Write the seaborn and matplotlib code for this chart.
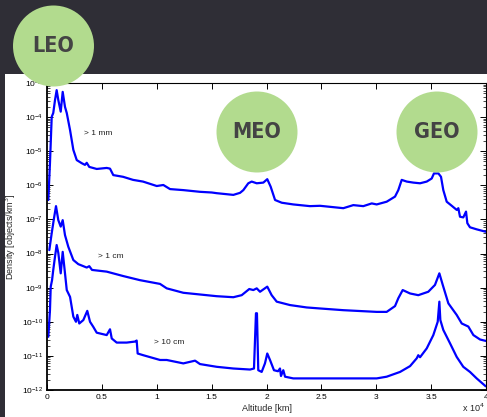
import numpy as np
import pandas as pd
import matplotlib
matplotlib.use('Agg')
import matplotlib.pyplot as plt
import seaborn as sns
from matplotlib.patches import Ellipse, Rectangle
from matplotlib.ticker import FuncFormatter, LogLocator, NullFormatter

sns.set_style('ticks')
plt.rcParams['font.family'] = ['Liberation Sans', 'DejaVu Sans']

# altitude [km] and log10 density [objects/km^3]
alt_mm = [120, 270, 430, 570, 730, 880, 1030, 1250, 1430, 1640, 1800, 2100, 2400, 2710,
          3160, 3460, 3620, 3850, 4530, 5440, 5740, 6040, 6930, 7840, 8750, 10000, 10600,
          11210, 12420, 13940, 15010, 15460, 16980, 17590, 17890, 18340, 18650, 19110,
          19710, 20070, 20380, 20780, 21390, 22440, 23960, 24880, 25790, 27000, 27910,
          28820, 29590, 30040, 30950, 31710, 32010, 32320, 32780, 33380, 33990, 34600,
          35050, 35260, 35660, 35900, 36110, 36420, 36880, 37330, 37480, 37630, 37930,
          38180, 38300, 38540, 39150, 39970]
logd_mm = [-6.43, -5.35, -3.99, -3.88, -3.50, -3.21, -3.50, -3.84, -3.26, -3.70, -3.88,
           -4.38, -4.96, -5.26, -5.35, -5.40, -5.34, -5.46, -5.52, -5.49, -5.51, -5.70,
           -5.75, -5.84, -5.89, -6.02, -5.99, -6.11, -6.14, -6.19, -6.21, -6.23, -6.28,
           -6.22, -6.14, -5.94, -5.89, -5.94, -5.92, -5.82, -6.04, -6.43, -6.51, -6.56,
           -6.61, -6.60, -6.63, -6.67, -6.58, -6.61, -6.53, -6.56, -6.48, -6.33, -6.14,
           -5.84, -5.89, -5.92, -5.94, -5.89, -5.80, -5.65, -5.65, -5.75, -6.14, -6.48,
           -6.60, -6.72, -6.67, -6.92, -6.94, -6.77, -7.11, -7.23, -7.29, -7.36]

alt_cm = [210, 430, 640, 820, 1030, 1250, 1430, 1640, 1940, 2400, 2850, 3620, 3850, 4100,
          5440, 6950, 8470, 10300, 10910, 12420, 13940, 15460, 16980, 17740, 18430, 18800,
          19110, 19410, 20070, 20470, 20930, 22140, 23660, 24880, 27000, 30040, 30950,
          31710, 32010, 32410, 33080, 33830, 34740, 35350, 35750, 36060, 36570, 37330,
          37790, 38390, 38850, 39460, 39970]
logd_cm = [-7.90, -7.40, -6.96, -6.61, -7.02, -7.21, -7.02, -7.46, -7.80, -8.19, -8.31,
           -8.41, -8.37, -8.48, -8.53, -8.66, -8.78, -8.89, -9.02, -9.15, -9.20, -9.25,
           -9.28, -9.22, -9.04, -9.07, -9.02, -9.12, -8.97, -9.22, -9.41, -9.51, -9.58,
           -9.61, -9.66, -9.71, -9.71, -9.54, -9.31, -9.07, -9.17, -9.22, -9.12, -8.92,
           -8.58, -8.92, -9.46, -9.80, -10.05, -10.14, -10.39, -10.52, -10.56]

alt_10cm = [120, 270, 340, 460, 570, 730, 880, 1030, 1250, 1430, 1640, 1800, 2100, 2400,
            2640, 2760, 2940, 3310, 3670, 3920, 4220, 4530, 5440, 5740, 5900, 6350, 7260,
            8020, 8170, 8260, 8770, 10300, 10910, 12420, 13490, 13940, 15460, 16980, 18500,
            18860, 19040, 19130, 19250, 19560, 19860, 20070, 20320, 20680, 21050, 21230,
            21320, 21530, 21690, 22440, 24880, 27000, 30040, 30950, 32170, 33080, 33690,
            33830, 33990, 34600, 35200, 35600, 35750, 35840, 36110, 36720, 37330, 37930,
            38540, 39150, 39970]
logd_10cm = [-10.44, -9.66, -8.97, -8.78, -8.48, -8.09, -7.75, -7.98, -8.58, -7.95, -8.58,
             -9.07, -9.27, -9.85, -10.00, -9.80, -10.05, -9.95, -9.68, -10.00, -10.15,
             -10.32, -10.39, -10.22, -10.49, -10.61, -10.61, -10.58, -10.55, -10.93, -10.98,
             -11.12, -11.12, -11.22, -11.14, -11.24, -11.32, -11.37, -11.40, -11.37, -9.75,
             -9.75, -11.42, -11.47, -11.22, -10.93, -11.12, -11.42, -11.45, -11.37, -11.59,
             -11.42, -11.61, -11.66, -11.66, -11.66, -11.66, -11.61, -11.47, -11.30, -11.07,
             -10.98, -11.04, -10.78, -10.39, -10.00, -9.41, -9.95, -10.24, -10.63, -11.03,
             -11.32, -11.47, -11.66, -11.89]

size_labels = ['> 1 mm', '> 1 cm', '> 10 cm']
label_alt = [3370, 4650, 9750]
label_logd = [-4.47, -8.10, -10.62]

orbits = ['LEO', 'MEO', 'GEO']

frames = []
for lab, a, l in zip(size_labels, [alt_mm, alt_cm, alt_10cm], [logd_mm, logd_cm, logd_10cm]):
    frames.append(pd.DataFrame({'Altitude': a, 'Density': 10.0 ** np.array(l), 'Size': lab}))
df = pd.concat(frames, ignore_index=True)

W, H = 487, 417
fig = plt.figure(figsize=(W / 100, H / 100), dpi=100)
fig.patch.set_facecolor('#2f2e36')

# white panel behind the chart
fig.add_artist(Rectangle((5 / W, 0), 1, 1 - 74 / H, transform=fig.transFigure,
                         facecolor='white', edgecolor='none', zorder=-10))

ax = fig.add_axes([47 / W, 1 - 390 / H, 439 / W, 307 / H])
sns.lineplot(data=df, x='Altitude', y='Density', hue='Size', units='Size', estimator=None,
             palette=['#0000ff'] * 3, linewidth=1.6, legend=False, ax=ax)

ax.set_yscale('log')
ax.set_xlim(0, 40000)
ax.set_ylim(1e-12, 1e-3)
ax.set_xticks(np.arange(0, 40001, 5000))
ax.xaxis.set_major_formatter(FuncFormatter(lambda v, p: f'{v / 1e4:g}'))
ax.yaxis.set_major_locator(LogLocator(base=10, numticks=20))
ax.yaxis.set_minor_locator(LogLocator(base=10, subs=np.arange(2, 10), numticks=20))
ax.yaxis.set_minor_formatter(NullFormatter())
ax.tick_params(axis='both', which='both', direction='in', top=True, right=True,
               labelsize=6, colors='black', pad=3)
ax.tick_params(which='major', length=4, width=0.7)
ax.tick_params(which='minor', length=2, width=0.5)
for s in ax.spines.values():
    s.set_color('black')
    s.set_linewidth(0.8)
ax.spines['left'].set_linewidth(1.3)
ax.spines['bottom'].set_linewidth(1.3)

ax.set_xlabel('Altitude [km]', fontsize=6.5, labelpad=2)
ax.set_ylabel('Density [objects/km$^3$]', fontsize=6.5, labelpad=3)
fig.text(485 / W, 3 / H, 'x 10$^4$', fontsize=6.5, ha='right', va='bottom')

for lab, a, l in zip(size_labels, label_alt, label_logd):
    ax.text(a, 10.0 ** l, lab, fontsize=6, color='#222222', va='center', ha='left')

# green orbit badges
centres = [(53.5, 46), (257, 132), (437, 132)]
for name, (cx, cy) in zip(orbits, centres):
    fig.add_artist(Ellipse((cx / W, 1 - cy / H), 81 / W, 81 / H, transform=fig.transFigure,
                           facecolor='#b2db8e', edgecolor='none', zorder=5))
    fig.text(cx / W, 1 - cy / H, name, ha='center', va='center', fontsize=15.5,
             fontweight='bold', fontstretch='condensed', color='#444444', zorder=6,
             family=['DejaVu Sans'])

fig.savefig('out.png', dpi=100, facecolor=fig.get_facecolor())
